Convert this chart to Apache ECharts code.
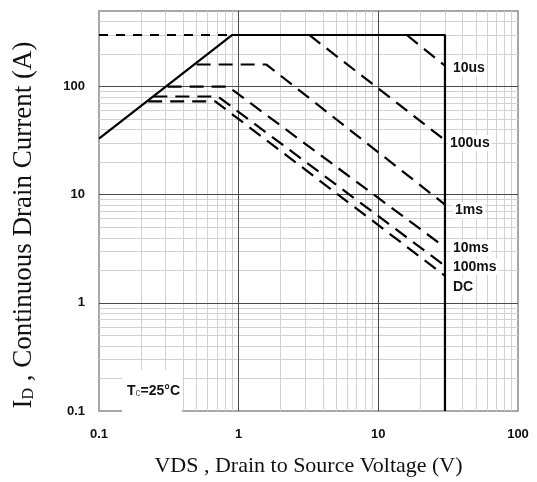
<!DOCTYPE html>
<html>
<head>
<meta charset="utf-8">
<script src="https://cdn.jsdelivr.net/npm/echarts@6/dist/echarts.min.js"></script>
<style>
  html, body { margin: 0; padding: 0; background: #fff; }
  #chart { width: 537px; height: 482px; }
</style>
</head>
<body>
<div id="chart"></div>
<script>
// ---- data ----
const xTickLabels = [0.1, 1, 10, 100];
const yTickLabels = [0.1, 1, 10, 100];
const xRange = [0.1, 100];
const yRange = [0.1, 500];

const rdsAndLimit = [[0.1, 33], [0.9, 300], [30, 300], [30, 0.1]];   // solid boundary
const currentLimitDashed = [[0.1, 300], [0.9, 300]];
const us10 = [[16, 300], [30, 156]];
const us100 = [[3.2, 300], [30, 32]];
const ms1 = [[0.5, 160], [1.58, 160], [30, 8.1]];
const ms10 = [[0.31, 100], [0.84, 100], [30, 3.26]];
const ms100 = [[0.245, 81], [0.71, 81], [30, 2.2]];
const dc = [[0.225, 73], [0.68, 73], [30, 1.78]];

const curveNames = ['10us', '100us', '1ms', '10ms', '100ms', 'DC'];
const curveData = [us10, us100, ms1, ms10, ms100, dc];

// ---- grid lines (decades + 2..9 minors) ----
function decadeLines(lo, hi) {
  const major = [], minor = [];
  for (let d = lo; d <= hi * 1.0001; d *= 10) {
    major.push(+d.toPrecision(6));
    for (let k = 2; k <= 9; k++) {
      const v = +(d * k).toPrecision(6);
      if (v < hi * 0.9999) minor.push(v);
    }
  }
  return { major, minor };
}
const gx = decadeLines(xRange[0], xRange[1]);
const gy = decadeLines(yRange[0], yRange[1]);
const vLines = arr => arr.map(x => ({ coords: [[x, yRange[0]], [x, yRange[1]]] }));
const hLines = arr => arr.map(y => ({ coords: [[xRange[0], y], [xRange[1], y]] }));

const labelOffsets = {
  '10us': [0, 2], '100us': [-3, 3], '1ms': [2, 6], '10ms': [0, 1], '100ms': [0, 1], 'DC': [0, 11]
};

const dashStyle = { color: '#000', width: 2.2, type: [14, 8] };

const series = [
  { type: 'lines', coordinateSystem: 'cartesian2d', silent: true, z: 1,
    data: vLines(gx.minor).concat(hLines(gy.minor)),
    lineStyle: { color: '#d2d2d2', width: 1, opacity: 1 } },
  { type: 'lines', coordinateSystem: 'cartesian2d', silent: true, z: 1,
    data: vLines(gx.major.filter(v => v > xRange[0] && v < xRange[1]))
      .concat(hLines(gy.major.filter(v => v > yRange[0] && v < yRange[1]))),
    lineStyle: { color: '#4a4a4a', width: 1, opacity: 1 } },
  { type: 'line', data: rdsAndLimit, showSymbol: false, z: 5,
    lineStyle: { color: '#000', width: 2.2 } },
  { type: 'line', data: currentLimitDashed, showSymbol: false, z: 5,
    lineStyle: { color: '#000', width: 2.2, type: [9, 8] } }
];
curveNames.forEach((name, i) => {
  series.push({
    type: 'line', name, data: curveData[i], showSymbol: false, z: 5,
    lineStyle: dashStyle,
    endLabel: {
      show: true, formatter: name, distance: 6, offset: labelOffsets[name],
      fontFamily: 'Liberation Sans, Arial, sans-serif', fontWeight: 'bold', fontSize: 14,
      color: '#111', backgroundColor: '#fff', padding: [1, 2]
    }
  });
});

function decadeText(v, list) {
  const t = list.find(t => Math.abs(Math.log10(v) - Math.log10(t)) < 1e-6);
  return t === undefined ? '' : String(t);
}

const chart = echarts.init(document.getElementById('chart'), null, { renderer: 'canvas' });
chart.setOption({
  animation: false,
  backgroundColor: '#fff',
  grid: { left: 99, right: 19, top: 11, bottom: 69, show: true,
          borderColor: '#8a8a8a', borderWidth: 1.5, backgroundColor: 'transparent' },
  xAxis: {
    type: 'log', logBase: 10, min: xRange[0], max: xRange[1],
    axisLine: { show: false }, axisTick: { show: false }, splitLine: { show: false },
    axisLabel: {
      margin: 17, color: '#111', fontSize: 13, fontWeight: 'bold',
      fontFamily: 'Liberation Sans, Arial, sans-serif',
      formatter: v => decadeText(v, xTickLabels)
    },
    name: 'VDS , Drain to Source Voltage (V)', nameLocation: 'middle', nameGap: 44,
    nameTextStyle: { fontFamily: 'Liberation Serif, Times New Roman, serif', fontSize: 22, color: '#111' }
  },
  yAxis: {
    type: 'log', logBase: 10, min: yRange[0], max: yRange[1],
    axisLine: { show: false }, axisTick: { show: false }, splitLine: { show: false },
    axisLabel: {
      margin: 14, color: '#111', fontSize: 13, fontWeight: 'bold', showMaxLabel: false,
      fontFamily: 'Liberation Sans, Arial, sans-serif',
      formatter: v => decadeText(v, yTickLabels)
    },
    name: '{i|I}{d|D}{t| , Continuous Drain Current (A)}', nameLocation: 'middle', nameGap: 62,
    nameTextStyle: {
      fontFamily: 'Liberation Serif, Times New Roman, serif', fontSize: 27, color: '#111',
      padding: [0, 28, 0, 0],
      rich: {
        i: { fontFamily: 'Liberation Serif, serif', fontSize: 27, color: '#111' },
        d: { fontFamily: 'Liberation Serif, serif', fontSize: 16, color: '#111', verticalAlign: 'bottom', padding: [9, 0, 0, 0] },
        t: { fontFamily: 'Liberation Serif, serif', fontSize: 27, color: '#111' }
      }
    }
  },
  graphic: [
    { type: 'rect', z: 50, shape: { x: 122, y: 370, width: 60, height: 42 }, style: { fill: '#fff' } },
    { type: 'text', z: 51, x: 127, y: 391,
      style: {
        text: '{t|T}{c|c}{t|=25°C}', verticalAlign: 'middle',
        rich: {
          t: { fontFamily: 'Liberation Sans, Arial, sans-serif', fontWeight: 'bold', fontSize: 14, fill: '#111' },
          c: { fontFamily: 'Liberation Sans, Arial, sans-serif', fontSize: 10, fill: '#555', verticalAlign: 'bottom' }
        }
      } }
  ],
  series
});
</script>
</body>
</html>
